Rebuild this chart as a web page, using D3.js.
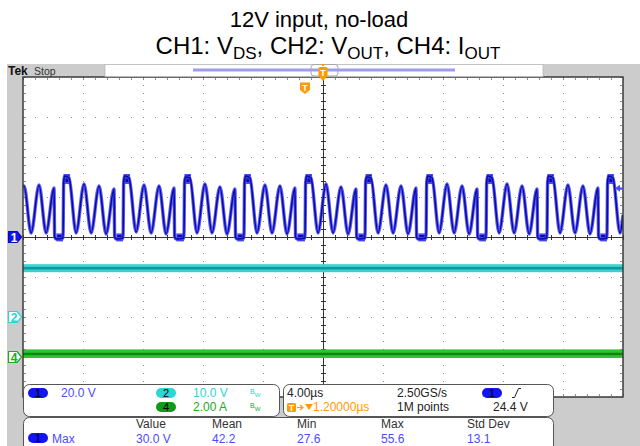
<!DOCTYPE html>
<html>
<head>
<meta charset="utf-8">
<script src="https://cdn.jsdelivr.net/npm/d3@7"></script>
<style>
html, body { margin: 0; padding: 0; background: #ffffff; }
svg { display: block; }
text { font-family: "Liberation Sans", Arial, sans-serif; }
</style>
</head>
<body>
<svg id="scope" width="640" height="446"></svg>
<script>
// ---------- captions ----------
const titleLine1 = "12V input, no-load";
const titleLine2 = [["CH1: V", false], ["DS", true], [", CH2: V", false], ["OUT", true], [", CH4: I", false], ["OUT", true]];

// ---------- CH1: V_DS (time in µs, volts) ----------
const ch1Time = [
  -20.00, -19.93, -19.46, -18.93, -18.46, -17.93, -17.89, -17.78,
  -17.33, -17.29, -17.23, -16.93, -16.46, -15.93, -15.46, -14.93, -14.46, -13.93, -13.89, -13.78,
  -13.33, -13.29, -13.23, -12.93, -12.46, -11.93, -11.46, -10.93, -10.46, -9.93, -9.89, -9.78,
  -9.27, -9.23, -9.17, -8.87, -8.40, -7.87, -7.40, -6.87, -6.40, -5.87, -5.83, -5.72,
  -5.27, -5.23, -5.17, -4.87, -4.40, -3.87, -3.40, -2.87, -2.40, -1.87, -1.83, -1.72,
  -1.20, -1.16, -1.10, -0.80, -0.33, 0.20, 0.67, 1.20, 1.67, 2.20, 2.24, 2.35,
  2.80, 2.84, 2.90, 3.20, 3.67, 4.20, 4.67, 5.20, 5.67, 6.20, 6.24, 6.35,
  6.87, 6.91, 6.97, 7.27, 7.74, 8.27, 8.74, 9.27, 9.74, 10.27, 10.31, 10.42,
  10.87, 10.91, 10.97, 11.27, 11.74, 12.27, 12.74, 13.27, 13.74, 14.27, 14.31, 14.42,
  14.93, 14.97, 15.03, 15.33, 15.80, 16.33, 16.80, 17.33, 17.80, 18.33, 18.37, 18.48,
  18.93, 18.97, 19.03, 19.33, 19.80, 20.00
];
const ch1Volts = [
  25.0, 25.5, 2.0, 26.0, 2.0, 24.5, 0.0, -1.0,
  -0.5, 27.0, 30.5, 29.5, 2.0, 26.5, 2.0, 25.5, 1.5, 24.0, 0.0, -1.0,
  -0.5, 27.0, 30.5, 29.5, 2.5, 26.0, 2.0, 25.5, 1.5, 24.5, 0.0, -1.0,
  -0.5, 27.0, 30.0, 29.5, 2.0, 26.5, 2.0, 25.0, 1.5, 24.0, 0.0, -1.0,
  -0.5, 27.0, 30.5, 29.5, 2.0, 26.0, 2.0, 25.5, 1.5, 24.5, 0.0, -1.0,
  -0.5, 27.0, 30.5, 29.5, 2.0, 26.5, 2.0, 25.0, 1.5, 24.0, 0.0, -1.0,
  -0.5, 27.0, 30.0, 29.5, 2.0, 26.0, 2.0, 25.5, 1.5, 24.5, 0.0, -1.0,
  -0.5, 27.0, 30.5, 29.5, 2.0, 26.5, 2.0, 25.5, 1.5, 24.0, 0.0, -1.0,
  -0.5, 27.0, 30.5, 29.5, 2.0, 26.5, 2.0, 25.5, 1.5, 24.0, 0.0, -1.0,
  -0.5, 27.0, 30.5, 29.5, 2.0, 26.0, 2.0, 25.5, 1.5, 24.5, 0.0, -1.0,
  -0.5, 27.0, 30.5, 29.5, 2.0, 11.0
];

// ---------- CH2: V_OUT and CH4: I_OUT (flat noisy levels) ----------
const ch2Level = 12.2;          // V
const ch2Band = [11.2, 13.2];   // V, noise envelope
const ch4Level = 0.15;          // A
const ch4Band = [-0.05, 0.38];  // A, noise envelope

// ---------- acquisition / trigger ----------
const trigLevel = 24.4;   // V on CH1
const trigTime = -1.2;    // µs
const chanScaleText = ["20.0 V", "10.0 V", "2.00 A"];
const timebaseText = ["4.00µs", "2.50GS/s", "1M points", "24.4 V", "1.20000µs"];
const measHeaders = ["Value", "Mean", "Min", "Max", "Std Dev"];
const measValues = ["30.0 V", "42.2", "27.6", "55.6", "13.1"];

// ---------- colours ----------
const C = {
  bezel: "#cccccc", grid: "#8c8c8c", frame: "#3a3a3a",
  ch1: "#0a0aa8", ch1Halo: "#4c4cf4", ch1Text: "#4b4bff", ch1Pill: "#1414f0",
  ch2: "#0a9c9c", ch2Band: "#40cfcf", ch2Text: "#2fd3d3", ch2Pill: "#2cd6d6",
  ch4: "#0b870b", ch4Band: "#2fc42f", ch4Text: "#22a822", ch4Pill: "#139a13",
  trig: "#ff9a00", dark: "#222222"
};

const svg = d3.select("#scope");

// graticule: 10 x 8 divisions
const PL = 23, PR = 623, PT = 77, PB = 397;
const x = d3.scaleLinear().domain([-20, 20]).range([PL, PR]);       // µs
const yDiv = d3.scaleLinear().domain([-4, 4]).range([PB, PT]);      // divisions
const y1 = d3.scaleLinear().domain([-80, 80]).range([PB, PT]);      // CH1 20 V/div, offset 0
const y2 = d3.scaleLinear().domain([-20, 60]).range([PB, PT]);      // CH2 10 V/div, offset -2 div
const y4 = d3.scaleLinear().domain([-2, 14]).range([PB, PT]);       // CH4 2 A/div, offset -3 div

// ---------- title ----------
svg.append("text").attr("x", 319).attr("y", 27).attr("text-anchor", "middle")
  .attr("font-size", 22).attr("fill", "#000").text(titleLine1);
const t2 = svg.append("text").attr("x", 328).attr("y", 54).attr("text-anchor", "middle")
  .attr("font-size", 24).attr("fill", "#000");
titleLine2.forEach(([s, sub], i) => {
  const ts = t2.append("tspan").text(s);
  if (sub) ts.attr("font-size", 17).attr("dy", 5);
  else if (i > 0) ts.attr("dy", -5);
});

// ---------- bezel ----------
svg.append("rect").attr("x", 7).attr("y", 64).attr("width", 633).attr("height", 382).attr("fill", C.bezel);

// plot area
svg.append("rect").attr("x", PL).attr("y", PT).attr("width", PR - PL).attr("height", PB - PT).attr("fill", "#ffffff");

// grid dots along major lines
const gGrid = svg.append("g").attr("fill", C.grid);
const majorX = d3.range(-20, 20.01, 4).filter(t => t > -20 && t < 20 && t !== 0);
const majorY = d3.range(-4, 4.01, 1).filter(d => d > -4 && d < 4 && d !== 0);
const minorX = d3.range(-20, 20.01, 0.8);
const minorY = d3.range(-4, 4.01, 0.2);
majorX.forEach(t => minorY.forEach(d => {
  gGrid.append("rect").attr("x", Math.round(x(t))).attr("y", Math.round(yDiv(d))).attr("width", 1).attr("height", 1);
}));
majorY.forEach(d => minorX.forEach(t => {
  gGrid.append("rect").attr("x", Math.round(x(t))).attr("y", Math.round(yDiv(d))).attr("width", 1).attr("height", 1);
}));
// ticks along the frame
minorX.forEach(t => {
  gGrid.append("rect").attr("x", Math.round(x(t))).attr("y", PT + 1).attr("width", 1).attr("height", 2);
  gGrid.append("rect").attr("x", Math.round(x(t))).attr("y", PB - 3).attr("width", 1).attr("height", 2);
});
minorY.forEach(d => {
  gGrid.append("rect").attr("x", PL + 1).attr("y", Math.round(yDiv(d))).attr("width", 2).attr("height", 1);
  gGrid.append("rect").attr("x", PR - 3).attr("y", Math.round(yDiv(d))).attr("width", 2).attr("height", 1);
});

// centre crosshair with minor ticks
const gCross = svg.append("g").attr("stroke", "#333").attr("stroke-width", 1).attr("shape-rendering", "crispEdges");
gCross.append("line").attr("x1", PL).attr("x2", PR).attr("y1", yDiv(0) + 0.5).attr("y2", yDiv(0) + 0.5);
gCross.append("line").attr("x1", x(0) + 0.5).attr("x2", x(0) + 0.5).attr("y1", PT).attr("y2", PB);
minorX.forEach(t => gCross.append("line").attr("x1", Math.round(x(t)) + 0.5).attr("x2", Math.round(x(t)) + 0.5)
  .attr("y1", yDiv(0) - 2).attr("y2", yDiv(0) + 3));
minorY.forEach(d => gCross.append("line").attr("y1", Math.round(yDiv(d)) + 0.5).attr("y2", Math.round(yDiv(d)) + 0.5)
  .attr("x1", x(0) - 2).attr("x2", x(0) + 3));

// ---------- traces ----------
svg.append("clipPath").attr("id", "plotClip").append("rect")
  .attr("x", PL).attr("y", PT).attr("width", PR - PL).attr("height", PB - PT);
const gTr = svg.append("g").attr("clip-path", "url(#plotClip)");

// CH2 band
gTr.append("rect").attr("x", PL).attr("width", PR - PL)
  .attr("y", y2(ch2Band[1])).attr("height", y2(ch2Band[0]) - y2(ch2Band[1])).attr("fill", C.ch2Band);
gTr.append("line").attr("x1", PL).attr("x2", PR).attr("y1", y2(ch2Level)).attr("y2", y2(ch2Level))
  .attr("stroke", C.ch2).attr("stroke-width", 2.5);

// CH4 band
gTr.append("rect").attr("x", PL).attr("width", PR - PL)
  .attr("y", y4(ch4Band[1])).attr("height", y4(ch4Band[0]) - y4(ch4Band[1])).attr("fill", C.ch4Band);
gTr.append("line").attr("x1", PL).attr("x2", PR).attr("y1", y4(ch4Level)).attr("y2", y4(ch4Level))
  .attr("stroke", C.ch4).attr("stroke-width", 2.5);

// CH1 trace
const ch1Pts = ch1Time.map((t, i) => [t, ch1Volts[i]]);
const line1 = d3.line().x(d => x(d[0])).y(d => y1(d[1])).curve(d3.curveMonotoneX);

// noise thickening where the trace dwells: flat off-state and the turn-on plateau
const gBlob = gTr.append("g");
for (let i = 0; i < ch1Pts.length - 1; i++) {
  const a = ch1Pts[i], b = ch1Pts[i + 1];
  if (Math.abs(a[1]) <= 1 && Math.abs(b[1]) <= 1 && b[0] - a[0] > 0.2) {
    gBlob.append("rect").attr("x", x(a[0])).attr("width", x(b[0]) - x(a[0]))
      .attr("y", y1(1.8)).attr("height", y1(-2.2) - y1(1.8)).attr("fill", C.ch1Halo);
    gBlob.append("rect").attr("x", x(a[0]) + 1).attr("width", x(b[0]) - x(a[0]) - 2)
      .attr("y", y1(1)).attr("height", y1(-1.6) - y1(1)).attr("fill", C.ch1);
  }
  if (a[1] >= 29 && b[1] >= 29) {
    gBlob.append("rect").attr("x", x(a[0]) - 1).attr("width", x(b[0]) - x(a[0]) + 2)
      .attr("y", y1(31.5)).attr("height", y1(26.5) - y1(31.5)).attr("fill", C.ch1Halo);
    gBlob.append("rect").attr("x", x(a[0])).attr("width", x(b[0]) - x(a[0]))
      .attr("y", y1(31)).attr("height", y1(27.5) - y1(31)).attr("fill", C.ch1);
  }
}
gTr.append("path").attr("d", line1(ch1Pts)).attr("fill", "none")
  .attr("stroke", C.ch1Halo).attr("stroke-width", 3.4).attr("stroke-linejoin", "round").attr("opacity", 0.9);
gTr.append("path").attr("d", line1(ch1Pts)).attr("fill", "none")
  .attr("stroke", C.ch1).attr("stroke-width", 1.6).attr("stroke-linejoin", "round");

// frame
const gFrame = svg.append("g").attr("stroke", C.frame).attr("stroke-width", 1.5).attr("fill", "none");
gFrame.append("rect").attr("x", PL).attr("y", PT).attr("width", PR - PL).attr("height", PB - PT);

// ---------- channel markers (left) ----------
function chanMarker(yPos, label, fill, stroke, txt) {
  const g = svg.append("g").attr("transform", `translate(0,${yPos})`);
  g.append("path").attr("d", "M8.5,-5.5 H17 L21.5,0 L17,5.5 H8.5 Z")
    .attr("fill", fill).attr("stroke", stroke).attr("stroke-width", 1.2).attr("stroke-linejoin", "round");
  g.append("text").attr("x", 14).attr("y", 4.5).attr("text-anchor", "middle")
    .attr("font-size", 12).attr("font-weight", "bold").attr("fill", txt).text(label);
}
chanMarker(y1(0), "1", C.ch1Pill, "#0a0ab0", "#ffffff");
chanMarker(y2(0), "2", "#ffffff", C.ch2Text, C.ch2Text);
chanMarker(y4(0), "4", "#ffffff", C.ch4Text, C.ch4Text);

// trigger level arrow (right)
const ty = y1(trigLevel);
svg.append("path").attr("d", `M615,${ty} L620,${ty - 3.5} L620,${ty + 3.5} Z`).attr("fill", C.ch1Halo);
svg.append("line").attr("x1", 619).attr("x2", 624).attr("y1", ty).attr("y2", ty)
  .attr("stroke", C.ch1Halo).attr("stroke-width", 1.5);

// trigger position badge
const tx = x(trigTime);
const gT = svg.append("g").attr("transform", `translate(${tx},88)`);
gT.append("path").attr("d", "M-5,-5.5 H5 V2 L0,6 L-5,2 Z").attr("fill", C.trig);
gT.append("text").attr("x", 0).attr("y", 2.5).attr("text-anchor", "middle").attr("font-size", 9)
  .attr("font-weight", "bold").attr("fill", "#fff").text("T");

// ---------- top status bar ----------
svg.append("text").attr("x", 8).attr("y", 75).attr("font-family", "'DejaVu Serif', serif")
  .attr("font-weight", "bold").attr("font-size", 12).attr("fill", "#111").text("Tek");
svg.append("text").attr("x", 34).attr("y", 75).attr("font-family", "'DejaVu Serif', serif")
  .attr("font-size", 10.5).attr("fill", "#333").text("Stop");
svg.append("rect").attr("x", 105).attr("y", 64.5).attr("width", 438).attr("height", 12).attr("fill", "#fff")
  .attr("stroke", "#bbb").attr("stroke-width", 0.8);
svg.append("line").attr("x1", 193).attr("x2", 455).attr("y1", 70).attr("y2", 70)
  .attr("stroke", "#9c9cf0").attr("stroke-width", 3);
svg.append("rect").attr("x", 311).attr("y", 64.5).attr("width", 27).attr("height", 11.5).attr("rx", 3)
  .attr("fill", "none").attr("stroke", "#a8a8a8").attr("stroke-width", 1);
const gTop = svg.append("g").attr("transform", `translate(${x(0)},0)`);
gTop.append("path").attr("d", "M-2.5,64 H2.5 L0,66.5 Z").attr("fill", C.trig);
gTop.append("rect").attr("x", -4.5).attr("y", 67).attr("width", 9).attr("height", 10).attr("rx", 1.5).attr("fill", C.trig);
gTop.append("path").attr("d", "M-4.5,76 H4.5 L0,81 Z").attr("fill", C.trig);
gTop.append("text").attr("x", 0).attr("y", 75.5).attr("text-anchor", "middle").attr("font-size", 9)
  .attr("font-weight", "bold").attr("fill", "#fff").text("T");

// ---------- readout boxes ----------
function box(x0, y0, w, h) {
  svg.append("rect").attr("x", x0).attr("y", y0).attr("width", w).attr("height", h).attr("rx", 6)
    .attr("fill", "#fff").attr("stroke", "#555").attr("stroke-width", 1);
}
function pill(x0, y0, fill, label) {
  svg.append("rect").attr("x", x0).attr("y", y0).attr("width", 20).attr("height", 10).attr("rx", 5).attr("fill", fill);
  svg.append("text").attr("x", x0 + 10).attr("y", y0 + 9).attr("text-anchor", "middle")
    .attr("font-size", 11).attr("fill", "#000").text(label);
}
function label(x0, y0, s, fill, size) {
  return svg.append("text").attr("x", x0).attr("y", y0).attr("font-size", size || 12).attr("fill", fill).text(s);
}
function bw(x0, y0, fill) {
  const t = svg.append("text").attr("x", x0).attr("y", y0).attr("font-size", 7).attr("fill", fill);
  t.append("tspan").text("B");
  t.append("tspan").attr("dy", 3).attr("font-size", 6).text("W");
}

box(23.5, 384.5, 256, 32);
pill(28, 388, C.ch1Pill, "1");
label(61, 397, chanScaleText[0], C.ch1Text);
pill(156, 388, C.ch2Pill, "2");
label(193, 397, chanScaleText[1], C.ch2Text);
bw(250, 394, C.ch2Text);
pill(156, 402, C.ch4Pill, "4");
label(193, 411, chanScaleText[2], C.ch4Text);
bw(250, 408, C.ch4Text);

box(283.5, 384.5, 270, 32);
label(287, 397, timebaseText[0], C.dark);
label(397, 397, timebaseText[1], C.dark);
pill(482, 388, C.ch1Pill, "1");
svg.append("path").attr("d", "M512,397.5 H514.5 L518.5,388.5 H521").attr("fill", "none")
  .attr("stroke", "#222").attr("stroke-width", 1);
svg.append("rect").attr("x", 287).attr("y", 403).attr("width", 9).attr("height", 9).attr("rx", 1.5).attr("fill", C.trig);
svg.append("text").attr("x", 291.5).attr("y", 411).attr("text-anchor", "middle").attr("font-size", 9)
  .attr("font-weight", "bold").attr("fill", "#fff").text("T");
svg.append("path").attr("d", "M297,407.5 H302 M300,405 L303,407.5 L300,410").attr("fill", "none")
  .attr("stroke", C.trig).attr("stroke-width", 1.2);
svg.append("path").attr("d", "M305,404 H313 L309,410 Z").attr("fill", C.trig);
label(313, 411, timebaseText[4], C.trig);
label(397, 411, timebaseText[2], C.dark);
label(493, 411, timebaseText[3], C.dark);

box(23.5, 417.5, 530, 40);
const measX = [136, 212, 297, 381, 467];
measHeaders.forEach((h, i) => label(measX[i], 428, h, "#333"));
pill(28, 433, C.ch1Pill, "1");
label(52, 443, "Max", C.ch1Text);
measValues.forEach((v, i) => label(measX[i], 443, v, C.ch1Text));
</script>
</body>
</html>
